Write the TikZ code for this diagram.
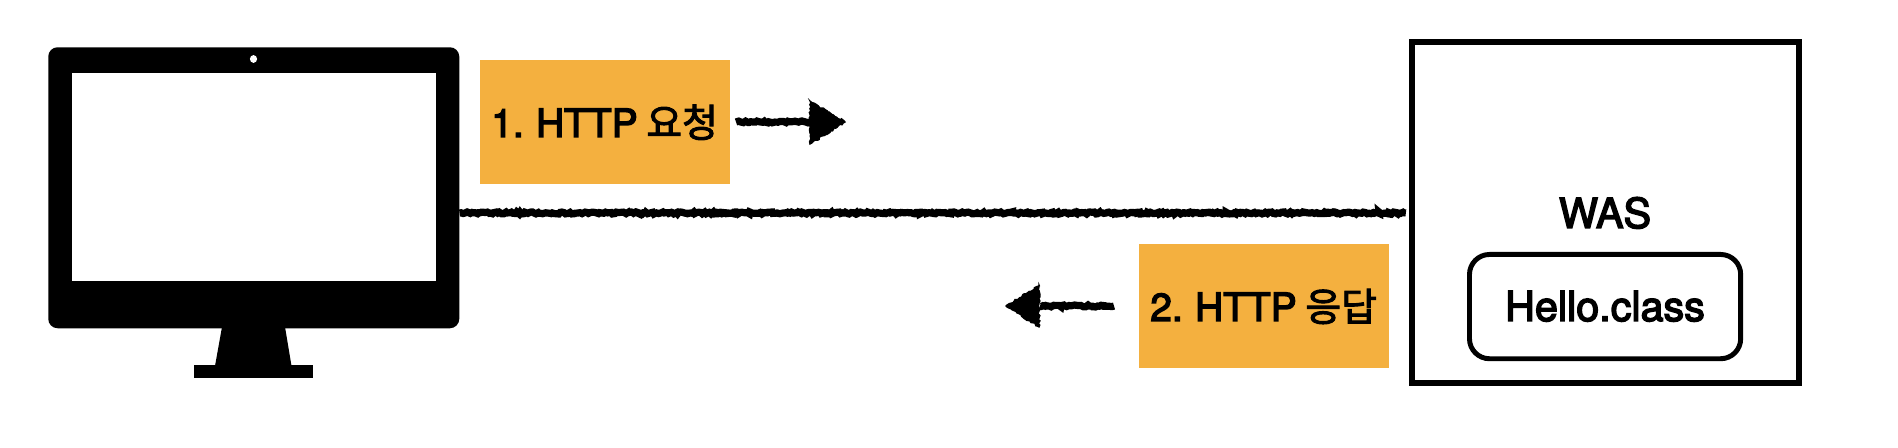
\documentclass[tikz,border=0pt]{standalone}
\usepackage{fontspec}
\setmainfont{TeX Gyre Heros}[FakeBold=3.5,WordSpace=0.8]
\newfontfamily\cjk{Noto Sans CJK KR}[FakeBold=2.5]
\usetikzlibrary{decorations.pathmorphing}
\definecolor{tagfill}{HTML}{F4B03F}
\tikzset{
  box/.style={draw=none,fill=tagfill,minimum width=187.5pt,minimum height=93pt,inner sep=0pt},
  rough/.style={line width=5.4pt,black,decorate,decoration={random steps,segment length=1.3pt,amplitude=0.75pt}},
  roughhead/.style={fill=black,draw=black,line width=1pt,decorate,decoration={random steps,segment length=1.5pt,amplitude=0.8pt}},
  lab/.style={inner sep=0pt,font=\fontsize{31}{33}\selectfont,text=black,anchor=base},
  taglab/.style={inner sep=0pt,font=\fontsize{29.2}{32}\selectfont,text=black,anchor=base west},
}
\pgfmathsetseed{7}
\begin{document}
\begin{tikzpicture}[x=0.75pt,y=-0.75pt]
\useasboundingbox (0,0) rectangle (1898,448);
% monitor
\node[fill=black,rounded corners=7pt,inner sep=0pt,minimum width=308.25pt,minimum height=210.75pt,anchor=north west] (monitor) at (48,47) {};
\node[fill=white,inner sep=0pt,minimum width=273pt,minimum height=156pt,anchor=north west] (screen) at (72,73) {};
\fill[white] (253.5,59) ellipse [x radius=3.6,y radius=3.9];
\fill[black] (222,327) -- (285,327) -- (291.5,366) -- (215,366) -- cycle;
\fill[black] (194,365) rectangle (313,378);
% tags
\node[box,anchor=north west] (req) at (480,60) {};
\node[taglab] (reqt) at (491,137) {1. HTTP {\cjk 요청}};
\node[box,anchor=north west] (res) at (1139,244) {};
\node[taglab] (rest) at (1150,321) {2. HTTP {\cjk 응답}};
% server
\node[draw=black,line width=4.6pt,inner sep=0pt,minimum width=290.6pt,minimum height=255.4pt,anchor=north west] (was) at (1408.5,39) {};
\node[lab] (wast) at (1605,228) {WAS};
\node[draw=black,line width=3.7pt,rounded corners=15pt,inner sep=0pt,minimum width=203.4pt,minimum height=78.2pt,anchor=north west] (hello) at (1467,252) {};
\node[lab] (hellot) at (1605,321) {Hello.class};
% link
\coordinate (la) at (monitor.east |- 0,213);
\coordinate (lb) at (was.west |- 0,213);
\draw[rough] (la) -- ([xshift=-2]lb);
% arrows
\coordinate (a1s) at (736,122);
\coordinate (a1b) at (811,122);
\coordinate (a1t) at (845,122);
\draw[rough] (a1s) -- (a1b);
\path[roughhead] (a1t) -- (810,101) -- (810,144) -- cycle;
\coordinate (a2s) at (1114,306);
\coordinate (a2b) at (1040,306);
\coordinate (a2t) at (1006,306);
\draw[rough] (a2s) -- (a2b);
\path[roughhead] (a2t) -- (1039,285) -- (1039,327) -- cycle;
\end{tikzpicture}
\end{document}
